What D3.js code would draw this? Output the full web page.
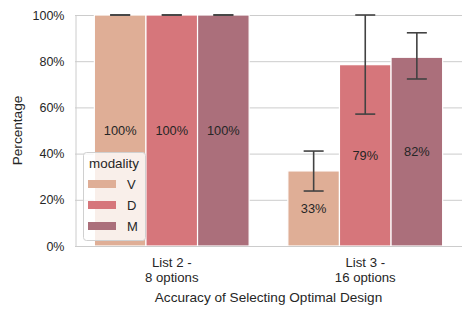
<!DOCTYPE html>
<html>
<head>
<meta charset="utf-8">
<script src="https://d3js.org/d3.v7.min.js"></script>
<style>
  body { margin: 0; background: #fff; }
  text { font-family: "Liberation Sans", Arial, sans-serif; fill: #262626; }
</style>
</head>
<body>
<svg width="472" height="315"></svg>
<script>
// data
var groups = ["List 2 -\n8 options", "List 3 -\n16 options"];
var modalities = ["V", "D", "M"];
var colors = ["#dfae96", "#d6767b", "#ab6f7b"];
var values = [[1.00, 1.00, 1.00], [0.325, 0.785, 0.817]];
var ciLow = [[1.00, 1.00, 1.00], [0.238, 0.571, 0.723]];
var ciHigh = [[1.00, 1.00, 1.00], [0.411, 1.00, 0.923]];
var labels = [["100%", "100%", "100%"], ["33%", "79%", "82%"]];
var yTicks = [0, 0.2, 0.4, 0.6, 0.8, 1.0];

var svg = d3.select("svg");
var mLeft = 75, mRight = 462, mTop = 15, mBottom = 246;

var x = d3.scaleBand().domain(d3.range(groups.length)).range([mLeft, mRight]);
var y = d3.scaleLinear().domain([0, 1]).range([mBottom, mTop]);
var bw = x.bandwidth() * 0.8;
var xs = d3.scaleBand().domain(d3.range(modalities.length)).range([0, bw]);

// grid
svg.append("g").selectAll("line").data(yTicks).enter().append("line")
  .attr("x1", mLeft).attr("x2", mRight)
  .attr("y1", function(d) { return y(d) + 0.5; }).attr("y2", function(d) { return y(d) + 0.5; })
  .attr("stroke", "#cccccc").attr("stroke-width", 1);

// y axis
var ya = svg.append("g").attr("transform", "translate(" + (mLeft + 0.5) + ",0)")
  .call(d3.axisLeft(y).tickValues(yTicks).tickFormat(d3.format(".0%")).tickSize(0).tickPadding(11));
ya.select(".domain").attr("stroke", "#cccccc");
ya.selectAll("text").style("font-size", "12.5px").attr("fill", "#262626");

// bars
var flat = [];
groups.forEach(function(g, i) {
  modalities.forEach(function(m, j) {
    flat.push({ g: i, m: j, v: values[i][j], lo: ciLow[i][j], hi: ciHigh[i][j], lab: labels[i][j] });
  });
});

function bx(d) { return x(d.g) + (x.bandwidth() - bw) / 2 + xs(d.m); }

svg.append("g").selectAll("rect").data(flat).enter().append("rect")
  .attr("x", bx)
  .attr("y", function(d) { return y(d.v); })
  .attr("width", xs.bandwidth())
  .attr("height", function(d) { return y(0) - y(d.v); })
  .attr("fill", function(d) { return colors[d.m]; })
  .attr("stroke", "#ffffff").attr("stroke-width", 1.2);

// bottom spine
svg.append("line").attr("x1", mLeft).attr("x2", mRight).attr("y1", mBottom + 0.5).attr("y2", mBottom + 0.5)
  .attr("stroke", "#cccccc");

// error bars
var eb = svg.append("g").attr("stroke", "#424242").attr("stroke-width", 1.6);
flat.forEach(function(d) {
  var cx = bx(d) + xs.bandwidth() / 2;
  eb.append("line").attr("x1", cx).attr("x2", cx).attr("y1", y(d.lo)).attr("y2", y(d.hi));
  eb.append("line").attr("x1", cx - 10).attr("x2", cx + 10).attr("y1", y(d.lo)).attr("y2", y(d.lo));
  eb.append("line").attr("x1", cx - 10).attr("x2", cx + 10).attr("y1", y(d.hi)).attr("y2", y(d.hi));
});

// value labels
svg.append("g").selectAll("text").data(flat).enter().append("text")
  .attr("x", function(d) { return bx(d) + xs.bandwidth() / 2; })
  .attr("y", function(d) { return y(d.v / 2); })
  .attr("dy", "0.35em").attr("text-anchor", "middle")
  .style("font-size", "12.8px")
  .text(function(d) { return d.lab; });

// x tick labels
groups.forEach(function(g, i) {
  var cx = x(i) + x.bandwidth() / 2;
  var t = svg.append("text").attr("x", cx).attr("y", 267)
    .attr("text-anchor", "middle").style("font-size", "13.2px");
  g.split("\n").forEach(function(line, k) {
    t.append("tspan").attr("x", cx).attr("dy", k ? "1.14em" : 0).text(line);
  });
});

// axis titles
svg.append("text").attr("x", (mLeft + mRight) / 2).attr("y", 302).attr("text-anchor", "middle")
  .style("font-size", "13.6px").text("Accuracy of Selecting Optimal Design");
svg.append("text").attr("transform", "translate(22," + (mTop + mBottom) / 2 + ") rotate(-90)")
  .attr("text-anchor", "middle").style("font-size", "13.6px").text("Percentage");

// legend
var lg = svg.append("g").attr("transform", "translate(83,152)");
lg.append("rect").attr("x", 0.5).attr("y", 0.5).attr("width", 62).attr("height", 88).attr("rx", 3)
  .attr("fill", "#ffffff").attr("fill-opacity", 0.8).attr("stroke", "#d0d0d0");
lg.append("text").attr("x", 31).attr("y", 11).attr("dy", "0.35em").attr("text-anchor", "middle")
  .style("font-size", "13.4px").text("modality");
modalities.forEach(function(m, j) {
  lg.append("rect").attr("x", 5).attr("y", 28 + j * 21).attr("width", 28).attr("height", 8)
    .attr("fill", colors[j]);
  lg.append("text").attr("x", 44).attr("y", 32 + j * 21).attr("dy", "0.35em")
    .style("font-size", "13px").text(m);
});
</script>
</body>
</html>
